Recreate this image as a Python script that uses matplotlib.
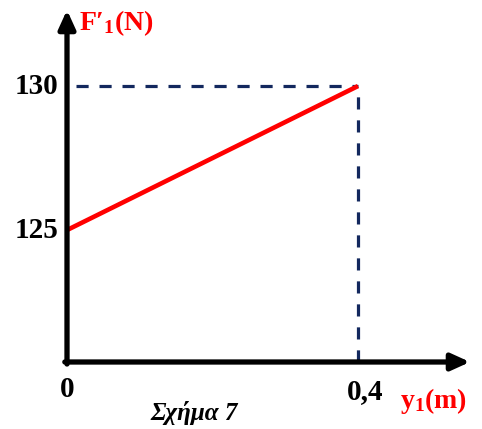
import matplotlib
matplotlib.use("Agg")
import matplotlib.pyplot as plt

# data
x_vals = [0.0, 0.4]
f_vals = [125, 130]
y_ticks = [125, 130]
y_tick_labels = ["125", "130"]
x_tick_labels = ["0", "0,4"]

plt.rcParams['mathtext.fontset'] = 'custom'
plt.rcParams['mathtext.rm'] = 'Liberation Serif:bold'
plt.rcParams['mathtext.it'] = 'Liberation Serif:bold'
plt.rcParams['mathtext.bf'] = 'Liberation Serif:bold'

W, H = 482, 429
fig = plt.figure(figsize=(W / 100, H / 100), dpi=100)
x0, y0, x1, y1 = 67, 362, 470, 10
ax = fig.add_axes([x0 / W, (H - y0) / H, (x1 - x0) / W, (y0 - y1) / H])
xmin, xmax = 0.0, 0.554
ymin, ymax = 120.42, 132.64
ax.set_xlim(xmin, xmax)
ax.set_ylim(ymin, ymax)
ax.axis('off')

navy = '#13285e'
dash = (0, (3.8, 3.4))
# dashed guides
ax.plot([x_vals[1], x_vals[1]], [ymin, f_vals[1]], ls=dash, color=navy, lw=2.3, clip_on=False)
ax.plot([0.012, x_vals[1]], [f_vals[1], f_vals[1]], ls=dash, color=navy, lw=2.3, clip_on=False)

# red line
ax.plot(x_vals, f_vals, color='#ff0000', lw=3.3, solid_capstyle='butt', clip_on=False)

# axes arrows
ap = dict(arrowstyle='-|>,head_length=1.1,head_width=0.5', color='black', lw=3.8, shrinkA=0, shrinkB=0)
ax.annotate('', xy=(xmax, ymin), xytext=(xmin - 0.003, ymin), arrowprops=ap, annotation_clip=False)
ax.annotate('', xy=(xmin, ymax), xytext=(xmin, ymin - 0.07), arrowprops=ap, annotation_clip=False)

tf = dict(family='Liberation Serif', weight='bold')
for v, lab in zip(y_ticks, y_tick_labels):
    ax.text(-0.012, v, lab, ha='right', va='center', fontsize=21, **tf)
ax.text(0.0, ymin - 0.5, x_tick_labels[0], ha='center', va='top', fontsize=21, **tf)
ax.text(0.41, ymin - 0.55, x_tick_labels[1], ha='center', va='top', fontsize=21, **tf)

ax.text(0.017, ymax - 0.45, 'F\u2032$_1$(N)', ha='left', va='center', fontsize=20, color='#ff0000', **tf)
ax.text(0.55, ymin - 1.35, 'y$_1$(m)', ha='right', va='center', fontsize=20, color='#ff0000', **tf)

fig.text(194 / W, 1 - 413 / H, 'Σχήμα 7', ha='center', va='center', fontsize=18,
         family='Liberation Serif', weight='bold', style='italic')

fig.savefig('out.png', dpi=100, facecolor='white')
